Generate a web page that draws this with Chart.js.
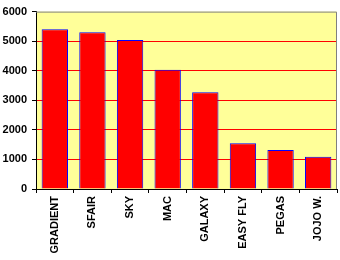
<!DOCTYPE html>
<html><head><meta charset="utf-8">
<script src="https://cdn.jsdelivr.net/npm/chart.js@4"></script>
<style>html,body{margin:0;padding:0;background:#fff}#w{width:340px;height:260px}</style>
</head><body><div id="w"><canvas id="c"></canvas></div>
<script>
const categories = ['GRADIENT','SFAIR','SKY','MAC','GALAXY','EASY FLY','PEGAS','JOJO W.'];
const values = [5400, 5300, 5040, 4030, 3270, 1550, 1315, 1090];
const yTicks = [0, 1000, 2000, 3000, 4000, 5000, 6000];

const bgPlugin = {
  id: 'bg',
  beforeDraw(chart) {
    const a = chart.chartArea, ctx = chart.ctx;
    ctx.save();
    ctx.fillStyle = '#FFFF99';
    ctx.fillRect(a.left, a.top, a.right - a.left, a.bottom - a.top);
    ctx.restore();
  },
  afterDraw(chart) {
    const a = chart.chartArea, ctx = chart.ctx;
    ctx.save();
    ctx.strokeStyle = '#808080';
    ctx.lineWidth = 1;
    ctx.beginPath();
    ctx.moveTo(a.left, a.top + 0.5);
    ctx.lineTo(a.right - 0.5, a.top + 0.5);
    ctx.lineTo(a.right - 0.5, a.bottom);
    ctx.stroke();
    ctx.restore();
  }
};

const font = { family: '"Liberation Sans", Arial, sans-serif', size: 11, weight: 'bold' };

new Chart(document.getElementById('c'), {
  type: 'bar',
  data: {
    labels: categories,
    datasets: [{
      data: values,
      backgroundColor: '#FF0000',
      borderColor: '#0000FF',
      borderWidth: 1,
      categoryPercentage: 0.7,
      barPercentage: 1.0
    }]
  },
  options: {
    responsive: true,
    maintainAspectRatio: false,
    animation: false,
    layout: { padding: { left: 0, right: 3, top: 8, bottom: 0 } },
    plugins: { legend: { display: false }, tooltip: { enabled: false } },
    scales: {
      x: {
        grid: { display: true, offset: true, drawOnChartArea: false, tickLength: 4, tickColor: '#000', color: '#000' },
        border: { color: '#000', width: 1 },
        ticks: { color: '#000', font: font, minRotation: 90, maxRotation: 90, padding: 3, autoSkip: false },
        afterFit(s) { s.height = 71; }
      },
      y: {
        min: 0, max: 6000,
        afterBuildTicks(s) { s.ticks = yTicks.map(v => ({ value: v })); },
        grid: {
          color: ctx => (ctx.tick && (ctx.tick.value === 0 || ctx.tick.value === 6000)) ? 'rgba(0,0,0,0)' : '#FF0000',
          tickColor: '#000', tickLength: 4, lineWidth: 1
        },
        border: { color: '#000', width: 1 },
        ticks: { color: '#000', font: font, padding: 5, callback: v => String(v) },
        afterFit(s) { s.width = 36; }
      }
    }
  },
  plugins: [bgPlugin]
});
</script>
</body></html>
